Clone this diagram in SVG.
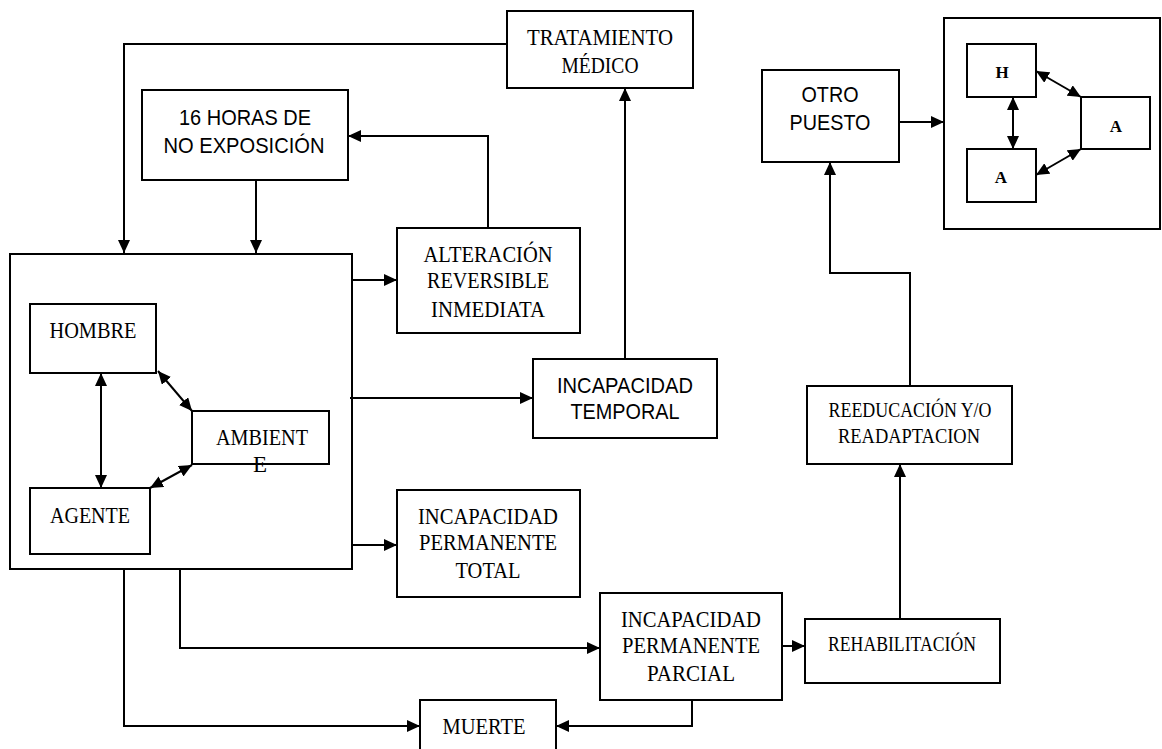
<svg xmlns="http://www.w3.org/2000/svg" width="1162" height="749" viewBox="0 0 1162 749">
<style>
.box{fill:#fff;stroke:#000;stroke-width:2}
.frame{fill:none;stroke:#000;stroke-width:2}
.ln{fill:none;stroke:#000;stroke-width:2}
.s{font-family:"Liberation Serif","Times New Roman",serif;font-size:23px;fill:#000;text-anchor:middle}
.a{font-family:"Liberation Sans",Arial,sans-serif;font-size:22px;fill:#000;text-anchor:middle}
</style>
<defs>
<marker id="ah" markerUnits="userSpaceOnUse" markerWidth="14" markerHeight="12" refX="13" refY="6" orient="auto-start-reverse">
<path d="M0,0 L13,6 L0,12 z" fill="#000"/>
</marker>
</defs>
<rect width="1162" height="749" fill="#fff"/>

<g id="sistema">
<rect class="frame" x="10" y="254" width="342" height="315"/>
</g>
<g id="sistema2">
<rect class="frame" x="944" y="18" width="216" height="211"/>
</g>

<g id="connectors">
<path class="ln" d="M507,44 H124 V253" marker-end="url(#ah)"/>
<path class="ln" d="M256,180 V253" marker-end="url(#ah)"/>
<path class="ln" d="M488,228 V136 H348" marker-end="url(#ah)"/>
<path class="ln" d="M625,359 V88" marker-end="url(#ah)"/>
<path class="ln" d="M352,280 H397" marker-end="url(#ah)"/>
<path class="ln" d="M350,398 H533" marker-end="url(#ah)"/>
<path class="ln" d="M352,545 H397" marker-end="url(#ah)"/>
<path class="ln" d="M180,569 V648 H600" marker-end="url(#ah)"/>
<path class="ln" d="M124,569 V726 H420" marker-end="url(#ah)"/>
<path class="ln" d="M692,700 V726 H556" marker-end="url(#ah)"/>
<path class="ln" d="M782,646 H805" marker-end="url(#ah)"/>
<path class="ln" d="M900,619 V464" marker-end="url(#ah)"/>
<path class="ln" d="M910,386 V273 H830 V162" marker-end="url(#ah)"/>
<path class="ln" d="M899,122 H944" marker-end="url(#ah)"/>
<path class="ln" d="M101,373 V488" marker-start="url(#ah)" marker-end="url(#ah)"/>
<path class="ln" d="M158,371 L192,411" marker-start="url(#ah)" marker-end="url(#ah)"/>
<path class="ln" d="M150,488 L192,465" marker-start="url(#ah)" marker-end="url(#ah)"/>
<path class="ln" d="M1013,97 V149" marker-start="url(#ah)" marker-end="url(#ah)"/>
<path class="ln" d="M1036,71 L1081,97" marker-start="url(#ah)" marker-end="url(#ah)"/>
<path class="ln" d="M1036,175 L1081,149" marker-start="url(#ah)" marker-end="url(#ah)"/>
</g>

<g id="tratamiento">
<rect class="box" x="507" y="11" width="186" height="77"/>
<text class="s" x="600" y="45" textLength="146" lengthAdjust="spacingAndGlyphs">TRATAMIENTO</text>
<text class="s" x="600" y="73" textLength="77" lengthAdjust="spacingAndGlyphs">MÉDICO</text>
</g>
<g id="horas">
<rect class="box" x="142" y="90" width="206" height="90"/>
<text class="a" x="245" y="125" textLength="132" lengthAdjust="spacingAndGlyphs">16 HORAS DE</text>
<text class="a" x="244" y="153" textLength="161" lengthAdjust="spacingAndGlyphs">NO EXPOSICIÓN</text>
</g>
<g id="hombre">
<rect class="box" x="30" y="304" width="126" height="69"/>
<text class="s" x="93" y="338" textLength="87" lengthAdjust="spacingAndGlyphs">HOMBRE</text>
</g>
<g id="ambiente">
<rect class="box" x="192" y="411" width="137" height="53"/>
<text class="s" x="262" y="445" textLength="92" lengthAdjust="spacingAndGlyphs">AMBIENT</text>
<text class="s" x="260" y="472">E</text>
</g>
<g id="agente">
<rect class="box" x="30" y="488" width="120" height="66"/>
<text class="s" x="90" y="523" textLength="80" lengthAdjust="spacingAndGlyphs">AGENTE</text>
</g>
<g id="alteracion">
<rect class="box" x="397" y="228" width="183" height="105"/>
<text class="s" x="488" y="262" textLength="129" lengthAdjust="spacingAndGlyphs">ALTERACIÓN</text>
<text class="s" x="488" y="288" textLength="122" lengthAdjust="spacingAndGlyphs">REVERSIBLE</text>
<text class="s" x="488" y="317" textLength="114" lengthAdjust="spacingAndGlyphs">INMEDIATA</text>
</g>
<g id="temporal">
<rect class="box" x="533" y="359" width="184" height="79"/>
<text class="a" x="625" y="393" textLength="136" lengthAdjust="spacingAndGlyphs">INCAPACIDAD</text>
<text class="a" x="625" y="419" textLength="109" lengthAdjust="spacingAndGlyphs">TEMPORAL</text>
</g>
<g id="total">
<rect class="box" x="397" y="490" width="183" height="107"/>
<text class="s" x="488" y="524" textLength="140" lengthAdjust="spacingAndGlyphs">INCAPACIDAD</text>
<text class="s" x="488" y="550" textLength="138" lengthAdjust="spacingAndGlyphs">PERMANENTE</text>
<text class="s" x="488" y="578" textLength="65" lengthAdjust="spacingAndGlyphs">TOTAL</text>
</g>
<g id="parcial">
<rect class="box" x="600" y="593" width="182" height="107"/>
<text class="s" x="691" y="627" textLength="140" lengthAdjust="spacingAndGlyphs">INCAPACIDAD</text>
<text class="s" x="691" y="653" textLength="138" lengthAdjust="spacingAndGlyphs">PERMANENTE</text>
<text class="s" x="691" y="681" textLength="88" lengthAdjust="spacingAndGlyphs">PARCIAL</text>
</g>
<g id="muerte">
<rect class="box" x="420" y="700" width="136" height="60"/>
<text class="s" x="484" y="734" textLength="83" lengthAdjust="spacingAndGlyphs">MUERTE</text>
</g>
<g id="rehabilitacion">
<rect class="box" x="805" y="619" width="195" height="64"/>
<text class="s" x="902" y="651" style="font-size:21px" textLength="148" lengthAdjust="spacingAndGlyphs">REHABILITACIÓN</text>
</g>
<g id="reeducacion">
<rect class="box" x="807" y="386" width="205" height="78"/>
<text class="s" x="910" y="417" style="font-size:21px" textLength="163" lengthAdjust="spacingAndGlyphs">REEDUCACIÓN Y/O</text>
<text class="s" x="909" y="443" style="font-size:21px" textLength="142" lengthAdjust="spacingAndGlyphs">READAPTACION</text>
</g>
<g id="otro">
<rect class="box" x="762" y="70" width="137" height="92"/>
<text class="a" x="830" y="102" textLength="57" lengthAdjust="spacingAndGlyphs">OTRO</text>
<text class="a" x="830" y="130" textLength="81" lengthAdjust="spacingAndGlyphs">PUESTO</text>
</g>
<g id="h">
<rect class="box" x="967" y="44" width="69" height="53"/>
<text class="s" x="1002" y="78" style="font-size:17px;font-weight:bold">H</text>
</g>
<g id="a1">
<rect class="box" x="1081" y="97" width="69" height="52"/>
<text class="s" x="1116" y="132" style="font-size:17px;font-weight:bold">A</text>
</g>
<g id="a2">
<rect class="box" x="967" y="149" width="69" height="53"/>
<text class="s" x="1001" y="183" style="font-size:17px;font-weight:bold">A</text>
</g>
</svg>
